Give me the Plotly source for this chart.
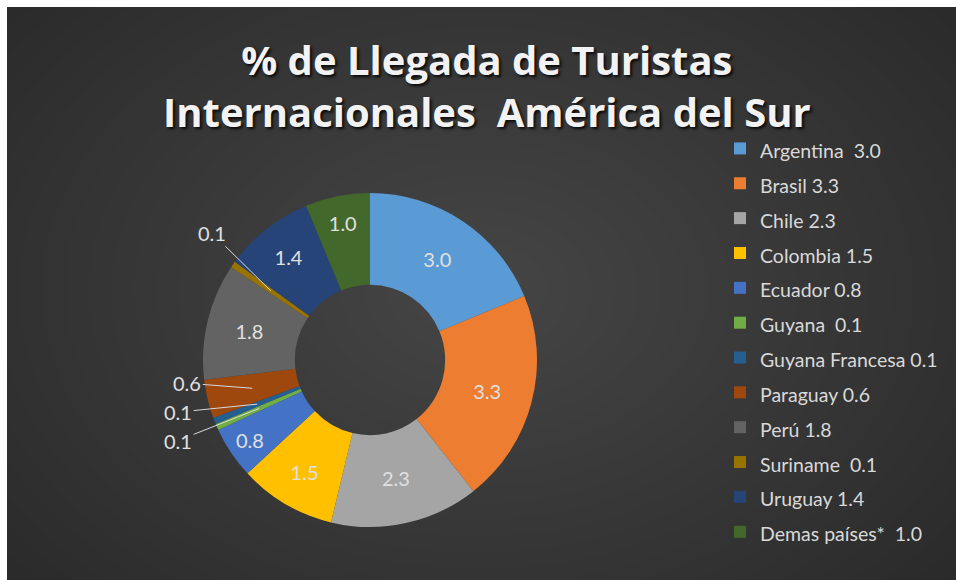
import math
import plotly.graph_objects as go

# ---- data ----
countries = ["Argentina  3.0", "Brasil 3.3", "Chile 2.3", "Colombia 1.5", "Ecuador 0.8",
             "Guyana  0.1", "Guyana Francesa 0.1", "Paraguay 0.6", "Perú 1.8",
             "Suriname  0.1", "Uruguay 1.4", "Demas países*  1.0"]
values = [3.0, 3.3, 2.3, 1.5, 0.8, 0.1, 0.1, 0.6, 1.8, 0.1, 1.4, 1.0]
colors = ["#5B9BD5", "#ED7D31", "#A5A5A5", "#FFC000", "#4472C4", "#70AD47",
          "#255E91", "#9E480E", "#636363", "#997300", "#264478", "#43682B"]
title_text = "% de Llegada de Turistas<br>Internacionales  América del Sur"

# ---- geometry ----
W, H = 956, 580
def fx(px): return px / W
def fy(py): return 1 - py / H

cx_px, cy_px, R = 370, 360, 167
HOLE = 0.45
small = {5: (-81, 32), 6: (-79, 8), 7: (-65, -5), 9: (-59, -58)}  # label offsets (px)

inside_text = ["" if i in small else f"{v:.1f}" for i, v in enumerate(values)]

fig = go.Figure()
fig.add_trace(go.Pie(
    labels=[f'<span style="font-size:19.5px">{c}</span>' for c in countries],
    values=values, sort=False, direction="clockwise", rotation=0,
    hole=HOLE,
    marker=dict(colors=colors, line=dict(width=0)),
    text=inside_text, textinfo="text", textposition="inside",
    insidetextorientation="horizontal",
    textfont=dict(family="Lato", size=20, color="#e0e0e0"),
    domain=dict(x=[fx(cx_px - R), fx(cx_px + R)],
                y=[fy(cy_px + R), fy(cy_px - R)]),
    hoverinfo="label+value",
))

# leader-line labels for small slices, tips at mid-angle, mid-ring
total = sum(values)
cum = 0
annotations = []
for i, v in enumerate(values):
    mid = (cum + v / 2) / total * 2 * math.pi
    cum += v
    if i in small:
        rr = R * (1 + HOLE) / 2
        px = cx_px + rr * math.sin(mid)
        py = cy_px - rr * math.cos(mid)
        ax, ay = small[i]
        annotations.append(dict(
            x=fx(px), y=fy(py), xref="paper", yref="paper",
            text=f"{v:.1f}", showarrow=True, arrowhead=0, arrowwidth=1,
            arrowcolor="#d9d9d9", ax=ax, ay=ay, standoff=0,
            font=dict(family="Lato", size=20, color="#e0e0e0")))

# title
annotations.append(dict(
    x=fx(487), y=fy(85), xref="paper", yref="paper", xanchor="center", yanchor="middle",
    text=title_text, showarrow=False, align="center",
    font=dict(family="Open Sans", size=40, color="#f2f2f2", weight="bold",
              shadow="2px 2px 3px rgba(0,0,0,0.85)")))

# background: radial glow on dark paper, white border strips top/left
shapes = []
N = 30
for k in range(N):
    f = 1 - k / N
    rx, ry = 0.72 * f, 0.85 * f
    shapes.append(dict(type="circle", xref="paper", yref="paper",
                       x0=0.5 - rx, x1=0.5 + rx, y0=0.5 - ry, y1=0.5 + ry,
                       fillcolor="rgba(255,255,255,0.0085)", line=dict(width=0), layer="below"))
shapes.append(dict(type="rect", xref="paper", yref="paper", x0=-0.01, x1=fx(7), y0=-0.01, y1=1.01,
                   fillcolor="white", line=dict(width=0), layer="below"))
shapes.append(dict(type="rect", xref="paper", yref="paper", x0=-0.01, x1=1.01, y0=fy(7), y1=1.01,
                   fillcolor="white", line=dict(width=0), layer="below"))

fig.update_layout(
    width=W, height=H, margin=dict(l=0, r=0, t=0, b=0),
    paper_bgcolor="#272727", plot_bgcolor="rgba(0,0,0,0)",
    shapes=shapes, annotations=annotations,
    showlegend=True,
    legend=dict(x=fx(720), xanchor="left", y=fy(126), yanchor="top",
                font=dict(family="Lato", size=24.5, color="#d9d9d9"),
                bgcolor="rgba(0,0,0,0)", borderwidth=0, traceorder="normal"),
)

fig.write_html(
    "out.html",
    config={"displayModeBar": False},
    post_script=("document.body.style.margin='0';"
                 "document.body.style.background='#272727';"
                 "document.body.style.overflow='hidden';"
                 "document.documentElement.style.overflow='hidden';"),
)
